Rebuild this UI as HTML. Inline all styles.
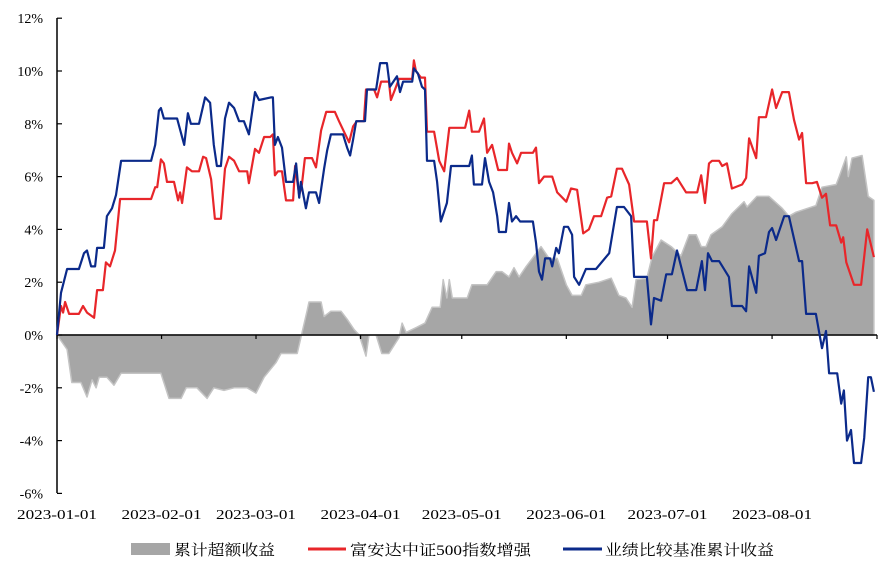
<!DOCTYPE html>
<html><head><meta charset="utf-8">
<style>
html,body{margin:0;padding:0;background:#fff;width:891px;height:567px;overflow:hidden;}
svg text{font-family:"Liberation Serif","Noto Serif CJK SC",serif;fill:#000;}
</style></head>
<body>
<svg id="chart" width="891" height="567" viewBox="0 0 891 567" xmlns="http://www.w3.org/2000/svg">
<g id="area-layer"></g>
<g id="axis-layer"></g>
<g id="line-layer"></g>
<g>
  <rect x="131" y="543" width="39" height="12" fill="#a6a6a6"/>
  <text x="174" y="555" font-size="15" textLength="101" lengthAdjust="spacingAndGlyphs">累计超额收益</text>
  <line x1="308" y1="549" x2="346" y2="549" stroke="#e8262a" stroke-width="3"/>
  <text x="350" y="555" font-size="15" textLength="181" lengthAdjust="spacingAndGlyphs">富安达中证500指数增强</text>
  <line x1="563" y1="549" x2="602" y2="549" stroke="#0b2a8a" stroke-width="3"/>
  <text x="605" y="555" font-size="15" textLength="169" lengthAdjust="spacingAndGlyphs">业绩比较基准累计收益</text>
</g>
</svg>
<script>
const yTicks = [12, 10, 8, 6, 4, 2, 0, -2, -4, -6];
const monthLabels = ["2023-01-01","2023-02-01","2023-03-01","2023-04-01","2023-05-01","2023-06-01","2023-07-01","2023-08-01"];
const monthDays = [0, 31, 59, 90, 120, 151, 181, 212];

const benchDays = [0,1.2,3.0,6.5,8.0,8.9,10.1,11.3,11.9,13.9,14.8,16.3,17.5,19.0,27.9,29.1,30.2,30.8,31.7,35.6,37.7,38.8,39.7,42.1,43.9,45.4,46.5,47.4,48.6,49.8,51.0,52.5,54.0,55.4,56.9,58.7,59.9,63.4,64.0,64.6,65.5,66.7,67.9,70.0,70.9,71.8,72.3,73.8,74.7,76.8,77.7,79.2,80.1,81.2,84.8,86.0,86.9,87.8,88.7,91.3,91.9,94.6,95.8,97.8,98.7,100.8,101.7,102.6,105.3,105.8,107.0,108.2,109.1,109.7,111.8,112.7,113.8,115.6,116.8,122.2,123.0,123.6,126.0,126.9,128.1,129.3,130.5,131.0,133.1,134.0,134.9,136.1,137.3,141.1,142.0,142.9,143.8,144.7,146.2,146.8,148.0,148.8,150.3,151.5,152.7,153.3,154.8,156.8,157.7,159.8,163.7,166.0,168.1,170.2,171.1,174.9,176.1,177.0,179.1,180.6,182.3,183.8,186.8,189.5,191.2,192.1,193.0,194.2,196.3,199.2,200.1,203.1,204.3,205.2,207.3,208.1,209.9,211.1,212.0,213.2,215.6,217.0,220.0,220.9,222.1,225.0,226.8,228.0,228.9,231.3,232.5,233.3,234.2,235.4,236.3,238.4,239.3,240.5,241.3,242.2];
const benchValues = [0,1.6,2.5,2.5,3.1,3.2,2.6,2.6,3.3,3.3,4.5,4.8,5.3,6.6,6.6,7.2,8.5,8.6,8.2,8.2,7.2,8.4,8.0,8.0,9.0,8.8,7.2,6.4,6.4,8.2,8.8,8.6,8.1,8.1,7.6,9.2,8.9,9.0,9.0,7.2,7.5,7.1,5.8,5.8,6.5,5.2,5.8,4.8,5.4,5.4,5.0,6.3,7.0,7.6,7.6,7.1,6.8,7.4,8.1,8.1,9.3,9.3,10.3,10.3,9.4,9.8,9.2,9.6,9.6,10.1,9.9,9.4,9.3,6.6,6.6,5.8,4.3,5.0,6.4,6.4,6.8,5.7,5.7,6.7,5.8,5.4,4.5,3.9,3.9,5.0,4.3,4.5,4.3,4.3,3.5,2.4,2.1,2.9,2.9,2.6,3.3,3.1,4.1,4.1,3.8,2.2,1.9,2.5,2.5,2.5,3.1,4.85,4.85,4.5,2.2,2.2,0.4,1.4,1.3,2.3,2.3,3.2,1.7,1.7,2.8,1.7,3.1,2.8,2.8,2.2,1.1,1.1,0.9,2.6,1.6,3.0,3.1,3.9,4.05,3.6,4.5,4.5,2.8,2.8,0.8,0.8,-0.5,0.15,-1.45,-1.45,-2.6,-2.1,-4.0,-3.6,-4.85,-4.85,-3.9,-1.6,-1.6,-2.15];

const fundDays = [0,1.2,1.8,2.4,3.6,6.5,7.7,8.9,11.0,11.9,13.6,14.5,15.7,17.2,18.7,27.9,29.1,29.7,30.8,31.7,32.6,34.7,35.9,36.5,37.1,38.5,40.0,42.1,43.3,44.2,45.7,46.8,48.6,49.8,51.0,52.5,54.0,56.4,56.9,58.7,59.9,61.4,63.2,64.0,64.6,65.5,66.7,67.9,70.0,70.6,71.8,72.6,73.5,75.6,76.8,78.3,79.8,82.4,83.6,85.1,86.6,87.8,88.9,91.0,91.6,94.0,94.9,96.1,98.4,99.0,100.2,101.4,105.3,105.8,106.4,107.9,109.1,109.7,111.8,113.3,114.8,116.3,121.0,122.2,123.0,125.1,126.6,127.5,129.0,130.8,133.4,134.0,134.9,136.4,137.6,141.1,142.0,142.9,144.4,146.8,148.3,151.0,152.4,154.2,156.0,157.7,159.2,161.3,163.1,164.3,166.0,167.5,169.6,171.1,174.9,176.1,177.0,177.9,180.0,182.1,183.8,186.5,189.8,191.0,192.1,193.3,194.2,196.3,197.2,198.6,200.1,203.1,204.3,205.2,207.3,208.1,210.2,212.0,213.2,215.0,217.0,218.5,220.0,220.9,222.1,223.9,225.3,226.8,228.0,229.2,231.0,232.5,233.1,234.0,236.3,238.4,240.2,242.2];
const fundValues = [0,1.1,0.85,1.25,0.8,0.8,1.1,0.85,0.65,1.7,1.7,2.75,2.6,3.2,5.15,5.15,5.6,5.6,6.65,6.5,5.8,5.8,5.1,5.4,5.0,6.35,6.2,6.2,6.75,6.7,5.9,4.4,4.4,6.3,6.75,6.6,6.2,6.2,5.75,7.05,6.9,7.5,7.5,7.6,6.05,6.2,6.2,5.1,5.1,6.4,5.3,5.7,6.7,6.7,6.35,7.75,8.45,8.45,8.1,7.7,7.3,7.9,8.1,8.1,9.3,9.3,9.0,9.6,9.6,8.9,9.3,9.7,9.7,10.4,10.0,9.75,9.75,7.7,7.7,6.6,6.2,7.85,7.85,8.5,7.7,7.7,8.2,6.9,7.2,6.25,6.25,7.25,6.9,6.5,6.9,6.9,7.1,5.75,6.0,6.0,5.4,5.05,5.55,5.5,3.85,4.0,4.5,4.5,5.2,5.25,6.3,6.3,5.7,4.3,4.3,2.9,4.35,4.35,5.75,5.75,5.95,5.4,5.4,6.05,5.0,6.5,6.6,6.6,6.4,6.5,5.55,5.7,5.95,7.45,6.7,8.25,8.25,9.3,8.6,9.2,9.2,8.15,7.4,7.65,5.75,5.75,5.8,5.2,5.35,4.15,4.15,3.5,3.7,2.75,1.9,1.9,4.0,2.95];

const excessDays = [0,3.0,4.4,7.1,8.9,10.4,11.6,12.5,14.8,16.9,19.0,30.8,33.2,36.8,38.3,41.5,44.5,46.5,49.5,52.5,56.4,59.0,61.4,64.9,66.4,71.2,74.2,74.7,78.3,79.2,81.2,84.2,86.0,88.1,89.6,91.6,92.5,94.6,96.3,98.4,101.4,102.3,103.5,106.8,109.1,111.2,113.6,114.5,115.6,116.3,117.2,121.6,123.0,127.5,130.2,131.9,134.0,135.5,137.0,139.1,140.9,143.5,145.9,148.3,151.0,152.7,155.4,156.8,160.7,164.3,166.6,168.7,170.5,171.7,174.9,176.4,179.1,182.1,185.0,187.4,189.5,191.0,192.4,193.9,197.2,200.1,203.7,204.6,207.5,211.1,215.0,217.0,219.1,225.0,226.8,231.0,231.9,234.0,234.6,235.7,238.7,240.5,242.2];
const excessValues = [0,-0.55,-1.8,-1.8,-2.35,-1.7,-2.0,-1.6,-1.6,-1.9,-1.45,-1.45,-2.4,-2.4,-2.0,-2.0,-2.4,-2.0,-2.1,-2.0,-2.0,-2.2,-1.6,-1.05,-0.7,-0.7,0.95,1.25,1.25,0.7,0.9,0.9,0.6,0.2,0,-0.8,0,0,-0.7,-0.7,-0.1,0.45,0.1,0.3,0.45,1.05,1.05,2.1,1.4,2.1,1.4,1.4,1.9,1.9,2.4,2.4,2.2,2.55,2.2,2.6,2.9,3.35,2.9,2.9,1.9,1.5,1.5,1.9,2.0,2.15,1.5,1.4,1.05,2.1,2.15,2.95,3.6,3.35,3.0,3.8,3.8,3.35,3.35,3.8,4.1,4.6,5.05,4.85,5.25,5.25,4.8,4.5,4.65,4.9,5.6,5.7,6.0,6.75,6.0,6.7,6.8,5.25,5.1];

const NS = "http://www.w3.org/2000/svg";
const x0 = 57, pxPerDay = 3.373;
const y0 = 335, pxPerPct = 26.4;
function xScale(d){ return x0 + d * pxPerDay; }
function yScale(v){ return y0 - v * pxPerPct; }
function mk(tag, attrs, parent){
  const el = document.createElementNS(NS, tag);
  for (const k in attrs) el.setAttribute(k, attrs[k]);
  parent.appendChild(el);
  return el;
}
const areaLayer = document.getElementById('area-layer');
const axisLayer = document.getElementById('axis-layer');
const lineLayer = document.getElementById('line-layer');

let ad = "M" + xScale(excessDays[0]) + "," + yScale(0);
for (let i = 0; i < excessDays.length; i++) ad += " L" + xScale(excessDays[i]).toFixed(1) + "," + yScale(excessValues[i]).toFixed(1);
ad += " L" + xScale(excessDays[excessDays.length-1]).toFixed(1) + "," + yScale(0) + " Z";
const area = mk('path', {d: ad, fill: '#a6a6a6', stroke: '#c4c4c4', 'stroke-width': 1.5, 'stroke-linejoin': 'round'}, areaLayer);



const yAxis = mk('line', {x1: 57, y1: 18, x2: 57, y2: 493, stroke: '#000', 'stroke-width': 1.5}, axisLayer);


yTicks.forEach(function(t){
  const y = yScale(t);
  const tk = mk('line', {x1: 57, y1: y, x2: 62, y2: y, stroke: '#000', 'stroke-width': 1.2}, axisLayer);
  
  
  const lb = mk('text', {x: 43, y: y + 5, 'text-anchor': 'end', 'font-size': 14}, axisLayer);
  lb.textContent = t + '%';
  
  
});
const xAxis = mk('line', {x1: 57, y1: y0, x2: 877, y2: y0, stroke: '#000', 'stroke-width': 1.5}, axisLayer);


monthDays.forEach(function(d, i){
  const x = xScale(d);
  const tk = mk('line', {x1: x, y1: y0, x2: x, y2: y0 + 4, stroke: '#000', 'stroke-width': 1.2}, axisLayer);
  
  
  const lb = mk('text', {x: x - 40, y: 519, 'font-size': 14, textLength: 80, lengthAdjust: 'spacingAndGlyphs'}, axisLayer);
  lb.textContent = monthLabels[i];
  
  
});
const endTick = mk('line', {x1: 877, y1: y0, x2: 877, y2: y0 + 4, stroke: '#000', 'stroke-width': 1.2}, axisLayer);



function linePath(days, vals){
  let d = "";
  for (let i = 0; i < days.length; i++) d += (i ? " L" : "M") + xScale(days[i]).toFixed(1) + "," + yScale(vals[i]).toFixed(1);
  return d;
}
const fundLine = mk('path', {d: linePath(fundDays, fundValues), fill: 'none', stroke: '#e8262a', 'stroke-width': 2.2, 'stroke-linejoin': 'round'}, lineLayer);


const benchLine = mk('path', {d: linePath(benchDays, benchValues), fill: 'none', stroke: '#0b2a8a', 'stroke-width': 2.2, 'stroke-linejoin': 'round'}, lineLayer);


</script>
</body></html>
